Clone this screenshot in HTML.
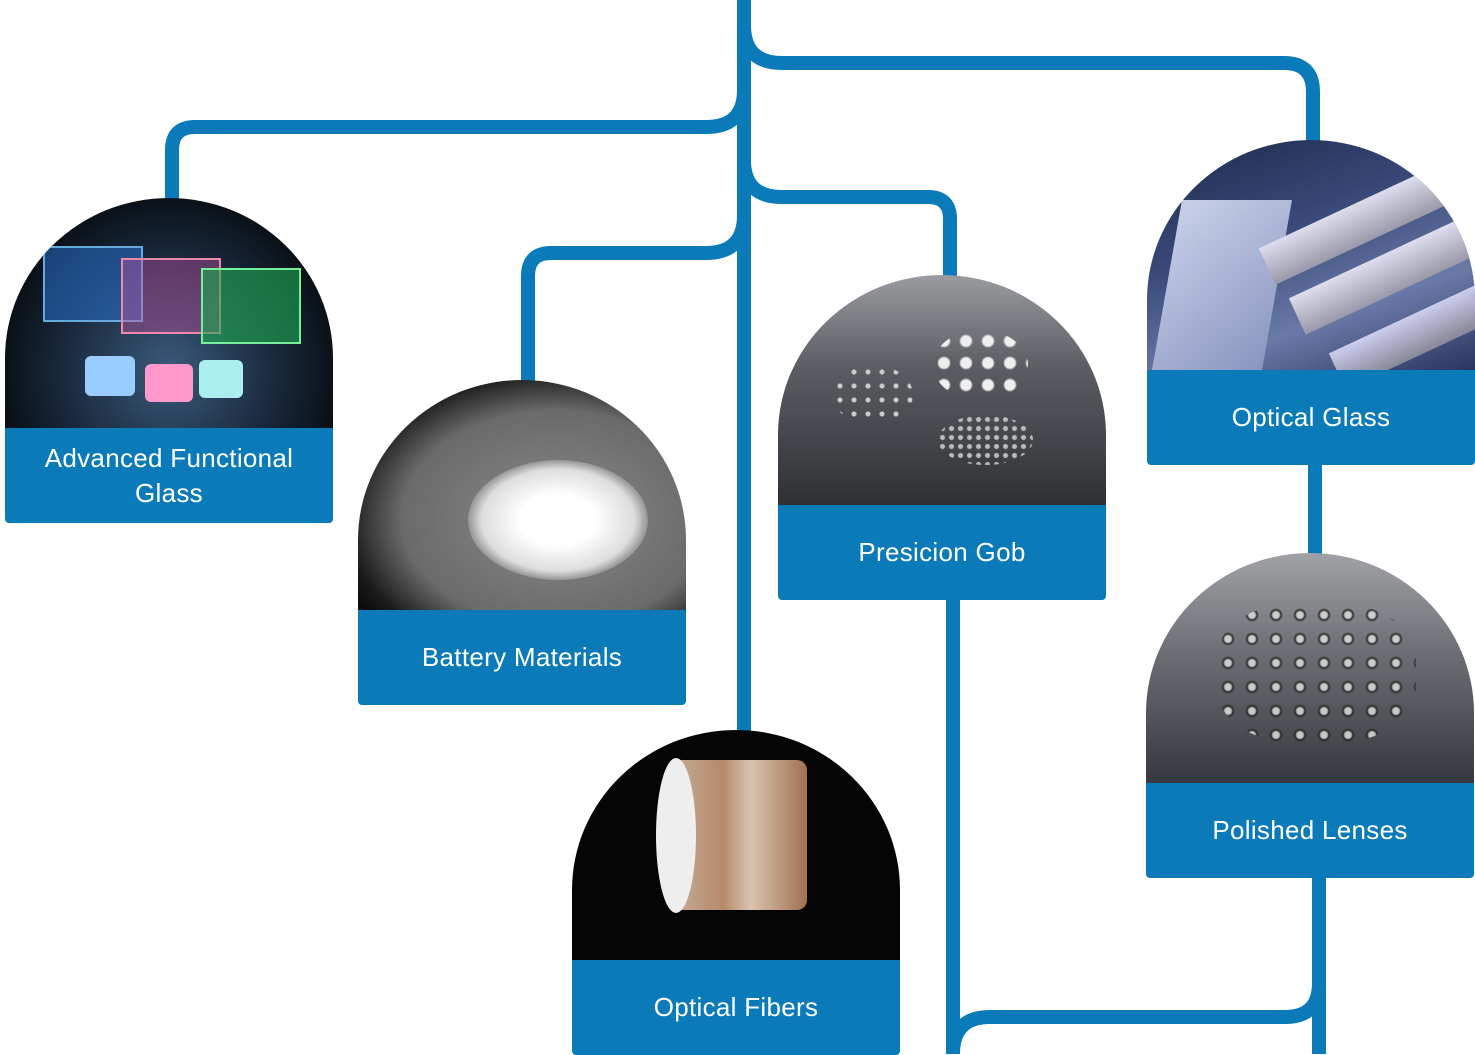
<!DOCTYPE html>
<html><head><meta charset="utf-8"><style>
html,body{margin:0;padding:0;background:#fff;}
body{width:1475px;height:1054px;position:relative;overflow:hidden;font-family:"Liberation Sans",sans-serif;}
svg.lines{position:absolute;left:0;top:0;}
.card{position:absolute;width:328px;}
.img{height:230px;border-radius:164px 164px 0 0/160px 160px 0 0;overflow:hidden;position:relative;}
.lab{height:95px;background:#0a7ab8;color:#fff;font-size:26px;display:flex;align-items:center;justify-content:center;text-align:center;line-height:35px;border-radius:0 0 4px 4px;letter-spacing:0.3px;}
.dot{position:absolute;border-radius:50%;}
</style></head><body>
<svg class="lines" width="1475" height="1054" fill="none" stroke="#0a7ab8" stroke-width="14">
<path d="M744 0 V735"/>
<path d="M744 25 Q744 63 782 63 H1284 Q1313 63 1313 92 V150"/>
<path d="M744 90 Q744 127 706 127 H195 Q172 127 172 150 V210"/>
<path d="M744 215 Q744 253 706 253 H551 Q528 253 528 276 V390"/>
<path d="M744 160 Q744 197 782 197 H928 Q950 197 950 219 V285"/>
<path d="M953 595 V1054"/>
<path d="M953 1054 Q953 1017 990 1017 H1285 Q1319 1017 1319 983 V870"/>
<path d="M1319 985 V1054"/>
<path d="M1315 460 V560"/>
</svg>

<div class="card" style="left:5px;top:198px;">
 <div class="img" style="background:radial-gradient(ellipse at 50% 75%,#3a5a7a 0%,#1a2a3e 45%,#05080c 80%);">
  <div style="position:absolute;left:38px;top:48px;width:96px;height:72px;border:2px solid #6ad;background:rgba(40,120,220,.5)"></div>
  <div style="position:absolute;left:116px;top:60px;width:96px;height:72px;border:2px solid #e8a;background:rgba(200,80,160,.4)"></div>
  <div style="position:absolute;left:196px;top:70px;width:96px;height:72px;border:2px solid #7e9;background:rgba(30,170,80,.6)"></div>
  <div style="position:absolute;left:80px;top:158px;width:50px;height:40px;background:#9cf;border-radius:6px"></div>
  <div style="position:absolute;left:140px;top:166px;width:48px;height:38px;background:#f9c;border-radius:6px"></div>
  <div style="position:absolute;left:194px;top:162px;width:44px;height:38px;background:#aee;border-radius:6px"></div>
 </div>
 <div class="lab">Advanced Functional<br>Glass</div>
</div>

<div class="card" style="left:358px;top:380px;">
 <div class="img" style="background:radial-gradient(ellipse at 60% 60%,#8a8a8a 0%,#6a6a6a 55%,#1a1a1a 75%,#000 90%);">
  <div class="dot" style="left:110px;top:80px;width:180px;height:120px;background:radial-gradient(#fff 30%,#ddd 60%,rgba(200,200,200,0) 75%)"></div>
 </div>
 <div class="lab">Battery Materials</div>
</div>

<div class="card" style="left:572px;top:730px;">
 <div class="img" style="background:#050505;">
  <div style="position:absolute;left:95px;top:30px;width:140px;height:150px;background:linear-gradient(90deg,#c9b0a0,#b58a6a 40%,#d9c3b0 60%,#a07050);border-radius:10px"></div>
  <div class="dot" style="left:84px;top:28px;width:40px;height:155px;background:#eee"></div>
 </div>
 <div class="lab">Optical Fibers</div>
</div>

<div class="card" style="left:778px;top:275px;">
 <div class="img" style="background:linear-gradient(180deg,#9a9ca0 0%,#5a5d62 40%,#2e3034 100%);">
  <div class="dot" style="left:55px;top:90px;width:80px;height:60px;background:radial-gradient(#ccc 2px,transparent 3px) 0 0/14px 14px"></div>
  <div class="dot" style="left:155px;top:55px;width:95px;height:70px;background:radial-gradient(#eee 5px,transparent 7px) 0 0/22px 22px"></div>
  <div class="dot" style="left:160px;top:140px;width:95px;height:50px;background:radial-gradient(#bbb 2px,transparent 3px) 0 0/9px 9px"></div>
 </div>
 <div class="lab">Presicion Gob</div>
</div>

<div class="card" style="left:1147px;top:140px;">
 <div class="img" style="background:linear-gradient(160deg,#1c2a4a 0%,#3a4a7a 40%,#6a7aa8 70%,#2a3560 100%);">
  <div style="position:absolute;left:20px;top:60px;width:110px;height:170px;background:linear-gradient(135deg,#c8d0e8,#8a96c0);transform:skewX(-10deg)"></div>
  <div style="position:absolute;left:110px;top:60px;width:220px;height:40px;background:linear-gradient(#dde,#99a);transform:rotate(-25deg)"></div>
  <div style="position:absolute;left:140px;top:110px;width:220px;height:40px;background:linear-gradient(#dde,#99a);transform:rotate(-25deg)"></div>
  <div style="position:absolute;left:180px;top:165px;width:220px;height:40px;background:linear-gradient(#cce,#889);transform:rotate(-25deg)"></div>
 </div>
 <div class="lab">Optical Glass</div>
</div>

<div class="card" style="left:1146px;top:553px;">
 <div class="img" style="background:linear-gradient(180deg,#a0a2a6 0%,#6a6d72 45%,#35383c 100%);">
  <div class="dot" style="left:70px;top:50px;width:200px;height:140px;background:radial-gradient(#ddd 3px,#222 5px,transparent 7px) 0 0/24px 24px;border-radius:40%;opacity:.85"></div>
 </div>
 <div class="lab">Polished Lenses</div>
</div>
</body></html>
